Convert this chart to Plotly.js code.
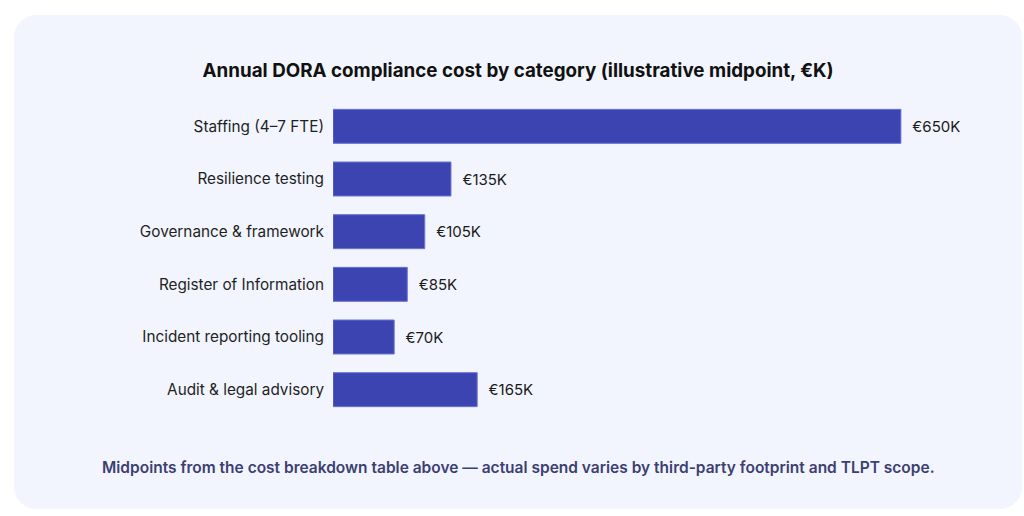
<!DOCTYPE html>
<html><head><meta charset="utf-8">
<script src="https://cdn.plot.ly/plotly-3.0.1.min.js"></script>
<style>
html,body{margin:0;padding:0;background:#ffffff;width:1024px;height:516px;overflow:hidden;}
#card{position:absolute;left:14px;top:15px;width:1008px;height:494px;background:#f2f5fd;border-radius:22px;}
#chart{position:absolute;left:0;top:0;width:1024px;height:516px;}
</style></head>
<body>
<div id="card"></div>
<div id="chart"></div>
<script>
const categories = ["Staffing (4–7 FTE)","Resilience testing","Governance & framework","Register of Information","Incident reporting tooling","Audit & legal advisory"];
const values = [650,135,105,85,70,165];
const valueLabels = ["€650K","€135K","€105K","€85K","€70K","€165K"];
const titleText = "Annual DORA compliance cost by category (illustrative midpoint, €K)";
const footnote = "Midpoints from the cost breakdown table above — actual spend varies by third-party footprint and TLPT scope.";

const trace = {
  type:"bar", orientation:"h",
  x: values, y: categories,
  text: valueLabels.map(s => "\u00a0\u00a0" + s), textposition:"outside", cliponaxis:false,
  textfont:{family:"Inter, sans-serif", size:15, color:"#1a1a1a"},
  marker:{color:"#3c44b2", line:{color:"#6a71d0", width:1}},
  hoverinfo:"none"
};
const layout = {
  width:1024, height:516,
  paper_bgcolor:"rgba(0,0,0,0)", plot_bgcolor:"rgba(0,0,0,0)",
  margin:{l:333, r:27, t:99.6, b:99.6},
  bargap:0.355,
  showlegend:false,
  title:{text:titleText, x:0.506, xanchor:"center", y:0.864, yanchor:"middle",
    font:{family:"Inter, sans-serif", size:18.8, weight:700, color:"#111111"}},
  xaxis:{range:[0,760], visible:false, fixedrange:true},
  yaxis:{autorange:"reversed", showgrid:false, zeroline:false, showline:false, ticks:"",
    ticklabelstandoff:8, tickfont:{family:"Inter, sans-serif", size:15.3, color:"#1f1f1f"}},
  annotations:[{text:footnote, xref:"paper", yref:"paper", x:0.279, y:-0.162,
    xanchor:"center", yanchor:"middle", showarrow:false,
    font:{family:"Inter, sans-serif", size:15.5, weight:600, color:"#3c4070"}}]
};
Plotly.newPlot("chart",[trace],layout,{displayModeBar:false, staticPlot:true});
</script>
</body></html>
